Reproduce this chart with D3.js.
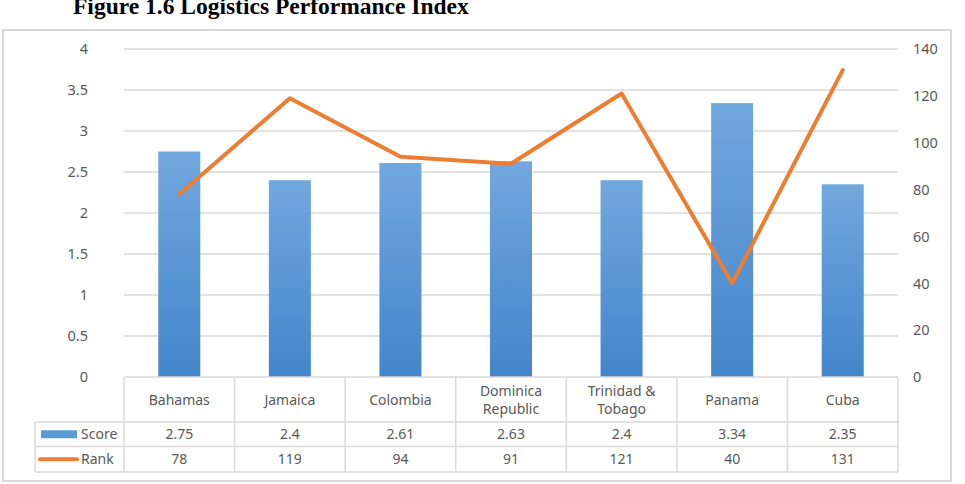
<!DOCTYPE html>
<meta charset="utf-8">
<style>
body {
  margin: 0;
  background: #fff;
}
svg text {
  font-family: "Noto Sans", sans-serif;
  fill: #595959;
}
</style>
<body>
<svg width="965" height="484"></svg>
<script src="https://d3js.org/d3.v7.min.js"></script>
<script>
var countries = ["Bahamas", "Jamaica", "Colombia", "Dominica\nRepublic", "Trinidad &\nTobago", "Panama", "Cuba"];
var score = [2.75, 2.4, 2.61, 2.63, 2.4, 3.34, 2.35];
var rank = [78, 119, 94, 91, 121, 40, 131];
var scoreTicks = [0, 0.5, 1, 1.5, 2, 2.5, 3, 3.5, 4];
var rankTicks = [0, 20, 40, 60, 80, 100, 120, 140];

var svg = d3.select("svg");

var blue = "#5b9bd5", orange = "#ed7d31", grid = "#d9d9d9";

// title (cut at top like in the scan)
svg.append("text")
    .attr("x", 73)
    .attr("y", 14)
    .style("font-family", "'Liberation Serif', 'Times New Roman', serif")
    .style("font-weight", "bold")
    .style("font-size", "23.5px")
    .style("fill", "#000")
    .text("Figure 1.6 Logistics Performance Index");

// outer frame
svg.append("rect")
    .attr("x", 3).attr("y", 30)
    .attr("width", 948).attr("height", 451)
    .attr("fill", "none")
    .attr("stroke", grid)
    .attr("stroke-width", 2);

var plotL = 124, plotR = 898, plotT = 49, plotB = 377;

var x = d3.scaleBand().domain(d3.range(countries.length)).range([plotL, plotR]).paddingInner(0).paddingOuter(0);
var y = d3.scaleLinear().domain([0, 4]).range([plotB, plotT]);
var y2 = d3.scaleLinear().domain([0, 140]).range([plotB, plotT]);

var defs = svg.append("defs");
var grad = defs.append("linearGradient").attr("id", "barGrad")
    .attr("x1", 0).attr("y1", 0).attr("x2", 0).attr("y2", 1);
grad.append("stop").attr("offset", "0%").attr("stop-color", "#71a8dd");
grad.append("stop").attr("offset", "100%").attr("stop-color", "#4485cb");

// gridlines
svg.append("g")
  .selectAll("line")
  .data(scoreTicks.slice(1))
  .enter().append("line")
    .attr("x1", plotL).attr("x2", plotR)
    .attr("y1", function(d) { return y(d); })
    .attr("y2", function(d) { return y(d); })
    .attr("stroke", grid)
    .attr("stroke-width", 1.5);

// left axis labels
svg.append("g")
  .selectAll("text")
  .data(scoreTicks)
  .enter().append("text")
    .attr("x", 88)
    .attr("y", function(d) { return y(d); })
    .attr("dy", "0.36em")
    .attr("text-anchor", "end")
    .style("font-size", "14.5px")
    .text(function(d) { return d; });

// right axis labels
svg.append("g")
  .selectAll("text")
  .data(rankTicks)
  .enter().append("text")
    .attr("x", 913)
    .attr("y", function(d) { return y2(d); })
    .attr("dy", "0.36em")
    .style("font-size", "14.5px")
    .text(function(d) { return d; });

// bars
var bw = 42;
svg.append("g")
  .selectAll("rect")
  .data(score)
  .enter().append("rect")
    .attr("x", function(d, i) { return x(i) + x.bandwidth() / 2 - bw / 2; })
    .attr("y", function(d) { return y(d); })
    .attr("width", bw)
    .attr("height", function(d) { return plotB - y(d); })
    .attr("fill", "url(#barGrad)");

// rank line
var line = d3.line()
    .x(function(d, i) { return x(i) + x.bandwidth() / 2; })
    .y(function(d) { return y2(d); });

svg.append("path")
    .datum(rank)
    .attr("d", line)
    .attr("fill", "none")
    .attr("stroke", orange)
    .attr("stroke-width", 4)
    .attr("stroke-linecap", "round")
    .attr("stroke-linejoin", "round");

// data table
var rowTop = plotB, r1 = 422, r2 = 446.5, r3 = 472, legLeft = 35;
var tg = svg.append("g");
var border = "#d9d9d9";

// horizontal rules
tg.append("line").attr("x1", plotL).attr("x2", plotR).attr("y1", rowTop).attr("y2", rowTop).attr("stroke", border).attr("stroke-width", 1.5);
[r1, r2, r3].forEach(function(yy) {
  tg.append("line").attr("x1", legLeft).attr("x2", plotR).attr("y1", yy).attr("y2", yy).attr("stroke", border).attr("stroke-width", 1.5);
});
// vertical rules
d3.range(countries.length + 1).forEach(function(i) {
  var xx = i < countries.length ? x(i) : plotR;
  tg.append("line").attr("x1", xx).attr("x2", xx).attr("y1", rowTop).attr("y2", r3).attr("stroke", border).attr("stroke-width", 1.5);
});
tg.append("line").attr("x1", legLeft).attr("x2", legLeft).attr("y1", r1).attr("y2", r3).attr("stroke", border).attr("stroke-width", 1.5);

// header labels
countries.forEach(function(c, i) {
  var parts = c.split("\n");
  var cx = x(i) + x.bandwidth() / 2;
  var t = tg.append("text")
      .attr("x", cx)
      .attr("text-anchor", "middle")
      .style("font-size", "14px");
  if (parts.length === 1) {
    t.attr("y", (rowTop + r1) / 2).attr("dy", "0.36em").text(parts[0]);
  } else {
    parts.forEach(function(p, k) {
      t.append("tspan").attr("x", cx).attr("y", (rowTop + r1) / 2 + (k - 0.5) * 18).attr("dy", "0.36em").text(p);
    });
  }
});

// value rows
[score, rank].forEach(function(arr, r) {
  var cy = r === 0 ? (r1 + r2) / 2 : (r2 + r3) / 2;
  arr.forEach(function(v, i) {
    tg.append("text")
        .attr("x", x(i) + x.bandwidth() / 2)
        .attr("y", cy)
        .attr("dy", "0.36em")
        .attr("text-anchor", "middle")
        .style("font-size", "14px")
        .text(v);
  });
});

// legend keys
tg.append("rect").attr("x", 41).attr("y", (r1 + r2) / 2 - 4).attr("width", 36).attr("height", 8).attr("fill", blue);
tg.append("line").attr("x1", 40).attr("x2", 77).attr("y1", (r2 + r3) / 2).attr("y2", (r2 + r3) / 2)
    .attr("stroke", orange).attr("stroke-width", 4).attr("stroke-linecap", "round");
tg.append("text").attr("x", 81).attr("y", (r1 + r2) / 2).attr("dy", "0.36em").style("font-size", "14px").text("Score");
tg.append("text").attr("x", 81).attr("y", (r2 + r3) / 2).attr("dy", "0.36em").style("font-size", "14px").text("Rank");
</script>
</body>
